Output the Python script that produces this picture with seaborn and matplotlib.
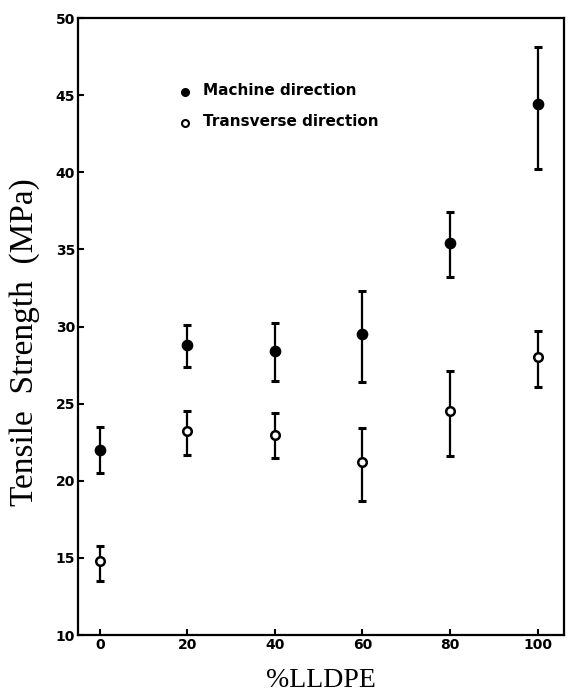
import numpy as np
import pandas as pd
import seaborn as sns
import matplotlib.pyplot as plt

sns.set_style("ticks")
plt.rcParams["font.family"] = ["DejaVu Sans"]

# Data -----------------------------------------------------------------------
lldpe = [0, 20, 40, 60, 80, 100]
md_mean = [22.0, 28.8, 28.4, 29.5, 35.4, 44.4]
md_hi = [23.5, 30.1, 30.2, 32.3, 37.4, 48.1]
md_lo = [20.5, 27.4, 26.5, 26.4, 33.2, 40.2]
td_mean = [14.8, 23.2, 23.0, 21.2, 24.5, 28.0]
td_hi = [15.8, 24.5, 24.4, 23.4, 27.1, 29.7]
td_lo = [13.5, 21.7, 21.5, 18.7, 21.6, 26.1]
labels = ["Machine direction", "Transverse direction"]

df = pd.DataFrame({
    "LLDPE": lldpe * 2,
    "TS": md_mean + td_mean,
    "hi": md_hi + td_hi,
    "lo": md_lo + td_lo,
    "dir": [labels[0]] * 6 + [labels[1]] * 6,
})

# Plot -----------------------------------------------------------------------
fig = plt.figure(figsize=(5.73, 6.96), dpi=100)
ax = fig.add_axes([0.136, 0.0876, 0.848, 0.8865])

for lab in labels:
    sub = df[df["dir"] == lab]
    ax.errorbar(
        sub["LLDPE"], sub["TS"],
        yerr=[sub["TS"] - sub["lo"], sub["hi"] - sub["TS"]],
        fmt="none", ecolor="black", elinewidth=1.6, capsize=3, capthick=2.2,
        zorder=2
    )

sns.scatterplot(
    data=df[df["dir"] == labels[0]], x="LLDPE", y="TS", ax=ax,
    color="black", s=55, edgecolor="black", linewidth=1, zorder=3,
    legend=False
)
sns.scatterplot(
    data=df[df["dir"] == labels[1]], x="LLDPE", y="TS", ax=ax,
    color="white", s=38, edgecolor="black", linewidth=1.8, zorder=3,
    legend=False
)

# Legend (drawn in axes coordinates) -------------------------------------------
ax.plot([0.22], [0.88], "o", ms=5.5, mfc="black", mec="black",
        transform=ax.transAxes)
ax.plot([0.22], [0.83], "o", ms=5, mfc="white", mec="black", mew=1.5,
        transform=ax.transAxes)
ax.text(0.257, 0.882, labels[0], transform=ax.transAxes, va="center",
        fontsize=11, fontweight="bold", color="black")
ax.text(0.257, 0.832, labels[1], transform=ax.transAxes, va="center",
        fontsize=11, fontweight="bold", color="black")

# Axes -----------------------------------------------------------------------
ax.set_xlim(-5, 106)
ax.set_ylim(10, 50)
ax.set_xticks(lldpe)
ax.set_yticks(np.arange(10, 51, 5))
ax.tick_params(direction="in", length=4, width=1.5, labelsize=10,
               colors="black", pad=2)
for t in ax.get_xticklabels() + ax.get_yticklabels():
    t.set_fontweight("bold")
for sp in ax.spines.values():
    sp.set_linewidth(1.6)
    sp.set_color("black")

ax.set_xlabel("%LLDPE", fontsize=20, family="Liberation Serif", labelpad=12,
              color="black")
ax.set_ylabel("Tensile  Strength  (MPa)", fontsize=24,
              family="Liberation Serif", color="black")
ax.yaxis.set_label_coords(-0.078, 0.475)

fig.savefig("out.png", dpi=100)
